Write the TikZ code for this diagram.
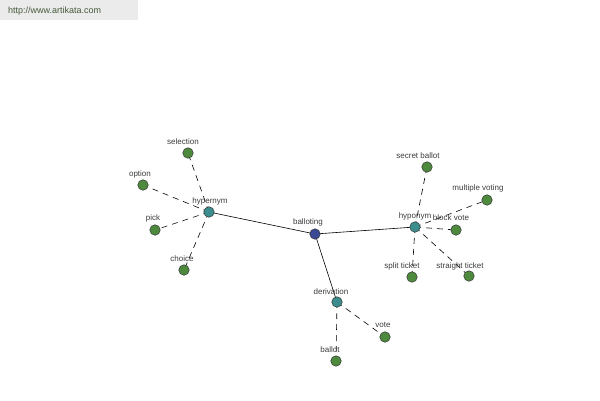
\documentclass[tikz,border=0pt]{standalone}
\usepackage{fontspec}
\setmainfont{Liberation Sans}
\begin{document}
\begin{tikzpicture}[x=1pt,y=-1pt,
  dot/.style={circle,draw=black!80,line width=0.5pt,minimum size=10.5pt,inner sep=0pt},
  leaf/.style={dot,fill={rgb,255:red,78;green,138;blue,62}},
  mid/.style={dot,fill={rgb,255:red,60;green,142;blue,142}},
  root/.style={dot,fill={rgb,255:red,58;green,72;blue,150}},
  lbl/.style={font=\fontsize{8}{9}\selectfont,text={rgb,255:red,60;green,60;blue,60},inner sep=0pt},
  solidedge/.style={draw=black,line width=0.6pt},
  dashedge/.style={draw=black,line width=0.6pt,dash pattern=on 6pt off 5pt}]
\useasboundingbox (0,0) rectangle (600,400);
\fill[white] (0,0) rectangle (600,400);
\fill[black!8] (0,0) rectangle (138,20);
\node[font=\fontsize{9}{10}\selectfont,text={rgb,255:red,70;green,90;blue,60},inner sep=0pt,anchor=west] (url) at (8,11) {http://www.artikata.com};
% coordinates
\coordinate (cB) at (315,234);
\coordinate (cHe) at (209,212);
\coordinate (cHo) at (415,227);
\coordinate (cD) at (337,302);
\coordinate (cSel) at (188,153);
\coordinate (cOpt) at (143,185);
\coordinate (cPick) at (155,230);
\coordinate (cCho) at (184,270);
\coordinate (cSec) at (427,167);
\coordinate (cMul) at (487,200);
\coordinate (cBlk) at (456,230);
\coordinate (cSpl) at (412,277);
\coordinate (cStr) at (469,276);
\coordinate (cVote) at (385,337);
\coordinate (cBal) at (336,361);
% edges
\draw[solidedge] (cHe) -- (cB);
\draw[solidedge] (cB) -- (cHo);
\draw[solidedge] (cB) -- (cD);
\foreach \t in {cSel,cOpt,cPick,cCho} \draw[dashedge] (cHe) -- (\t);
\foreach \t in {cSec,cMul,cBlk,cSpl,cStr} \draw[dashedge] (cHo) -- (\t);
\foreach \t in {cVote,cBal} \draw[dashedge] (cD) -- (\t);
% nodes
\node[root] (B) at (cB) {};
\node[mid] (He) at (cHe) {};
\node[mid] (Ho) at (cHo) {};
\node[mid] (D) at (cD) {};
\node[leaf] (Sel) at (cSel) {};
\node[leaf] (Opt) at (cOpt) {};
\node[leaf] (Pick) at (cPick) {};
\node[leaf] (Cho) at (cCho) {};
\node[leaf] (Sec) at (cSec) {};
\node[leaf] (Mul) at (cMul) {};
\node[leaf] (Blk) at (cBlk) {};
\node[leaf] (Spl) at (cSpl) {};
\node[leaf] (Str) at (cStr) {};
\node[leaf] (Vote) at (cVote) {};
\node[leaf] (Bal) at (cBal) {};
% labels
\node[lbl] (lB) at (308,222) {balloting};
\node[lbl] (lHe) at (210,201) {hypernym};
\node[lbl] (lHo) at (415,216) {hyponym};
\node[lbl] (lD) at (331,292) {derivation};
\node[lbl] (lSel) at (183,142) {selection};
\node[lbl] (lOpt) at (140,174) {option};
\node[lbl] (lPick) at (153,218) {pick};
\node[lbl] (lCho) at (182,259) {choice};
\node[lbl] (lSec) at (418,156) {secret ballot};
\node[lbl] (lMul) at (478,188) {multiple voting};
\node[lbl] (lBlk) at (451,218) {block vote};
\node[lbl] (lSpl) at (402,266) {split ticket};
\node[lbl] (lStr) at (460,266) {straight ticket};
\node[lbl] (lVote) at (383,325) {vote};
\node[lbl] (lBal) at (330,350) {ballot};
\end{tikzpicture}
\end{document}
